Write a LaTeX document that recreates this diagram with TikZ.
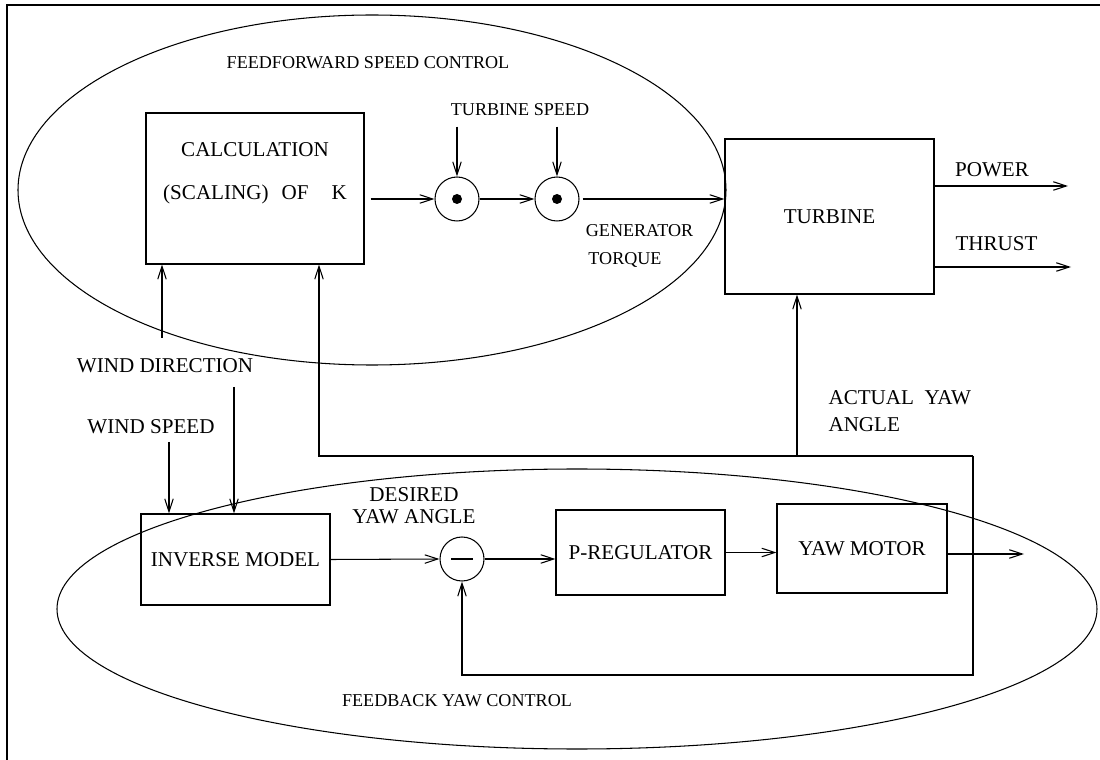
\documentclass[tikz,border=0pt]{standalone}
\usepackage{fontspec}
\setmainfont{Liberation Serif}
\usetikzlibrary{arrows.meta,calc}
\newcommand\lbltxt{\fontsize{12}{14}\selectfont}
\newcommand\smltxt{\fontsize{10.3}{12}\selectfont}
\begin{document}
\begin{tikzpicture}[x=0.02cm,y=-0.02cm,line width=.6pt,
    >={Straight Barb[length=2.6mm,width=1.7mm]},
    blk/.style={draw,inner sep=0pt,font=\lbltxt},
    mult/.style={draw,circle,minimum size=8.8mm,inner sep=0pt},
    lbl/.style={font=\lbltxt,inner sep=0pt},
    sml/.style={font=\smltxt,inner sep=0pt}]
    \useasboundingbox (0,0) rectangle (1100,760);
    \draw[line width=1.1pt] (1100,5) -- (7,5) -- (7,760);
    % the two control regions
    \draw (372,190) ellipse [x radius=354,y radius=175];
    \draw (577,609) ellipse [x radius=520,y radius=140];
    \node[sml] (ff) at (368,63) {FEEDFORWARD SPEED CONTROL};
    \node[sml] (fb) at (457,701) {FEEDBACK YAW CONTROL};

    % feedforward part
    \node[blk,minimum width=43.6mm,minimum height=30.2mm] (calc) at (255,188.5) {};
    \node[lbl,align=center,font=\fontsize{12}{24.5}\selectfont] (calctxt) at (255,173)
        {CALCULATION\\(SCALING)\hspace{2.6mm}OF\hspace{4.6mm}K};
    \node[mult] (m1) at (457,199) {};
    \node[mult] (m2) at (557,199) {};
    \fill (m1) circle (1mm);
    \fill (m2) circle (1mm);
    \node[sml] (tspeed) at (520,110) {TURBINE SPEED};
    \node[sml] (gen) at (639.5,231) {GENERATOR};
    \node[sml] (torq) at (625,260) {TORQUE};
    \node[blk,minimum width=41.8mm,minimum height=31mm] (turb) at (829.5,216.5) {TURBINE};
    \node[lbl] (power) at (992,170) {POWER};
    \node[lbl] (thrust) at (996.5,244) {THRUST};
    \node[lbl,anchor=west,align=left,font=\fontsize{12}{15.4}\selectfont] (actual) at (828,411)
        {ACTUAL\ \ YAW\\ANGLE};

    % feedback part
    \node[lbl] (wdir) at (165,366) {WIND DIRECTION};
    \node[lbl] (wspeed) at (151,427) {WIND SPEED};
    \node[blk,minimum width=37.8mm,minimum height=18.2mm] (inv) at (235.5,559.5) {INVERSE MODEL};
    \node[mult] (sum) at (462,559) {};
    \draw[line width=1pt] ($(sum)+(-11,0)$) -- ($(sum)+(11,0)$);
    \node[lbl,align=center,font=\fontsize{12}{12.5}\selectfont] (desired) at (414,506)
        {DESIRED\\YAW ANGLE};
    \node[blk,minimum width=33.8mm,minimum height=17mm] (preg) at (640.5,552.5) {P-REGULATOR};
    \node[blk,minimum width=34mm,minimum height=17.8mm] (yawm) at (862,548.5) {YAW MOTOR};

    \coordinate (jl) at (319,456);
    \coordinate (ja) at (797,456);
    \coordinate (jr) at (973,456);
    \coordinate (loop) at (462,675);
    \coordinate (out) at (1024,554);
    \coordinate (pw) at (1068,186);
    \coordinate (th) at (1071,267);
    \coordinate (wd1) at (162,338);
    \coordinate (wd2) at (234,387);
    \coordinate (ws) at (169,442);

    % connections
    \draw[->] ([xshift=1.2mm]calc.east |- m1) -- (m1.west);
    \draw[->] (m1.east) -- (m2.west);
    \draw[->] ([xshift=.6mm]m2.east) -- (turb.west |- m2);
    \foreach \m in {m1,m2}{
    \draw[->] ($(\m |- tspeed.south)+(0,10)$) -- (\m.north);
    }
    \draw[->] (turb.east |- pw) -- (pw);
    \draw[->] (turb.east |- th) -- (th);
    \draw[->] (wd1) -- (calc.south -| wd1);
    \draw[->] (wd2) -- (inv.north -| wd2);
    \draw[->] (ws) -- (inv.north -| ws);
    \draw[->] (inv.east) -- (sum.west);
    \draw[->] (sum.east) -- (preg.west |- sum);
    \draw[->] (preg.east) -- (yawm.west |- preg.east);
    \draw[->] (yawm.east |- out) -- (out);
    \draw[->] (jr) |- (loop) -- (sum.south);
    \draw[->] (jr) -- (jl) -- (calc.south -| jl);
    \draw[->] (ja) -- (turb.south -| ja);
\end{tikzpicture}
\end{document}
